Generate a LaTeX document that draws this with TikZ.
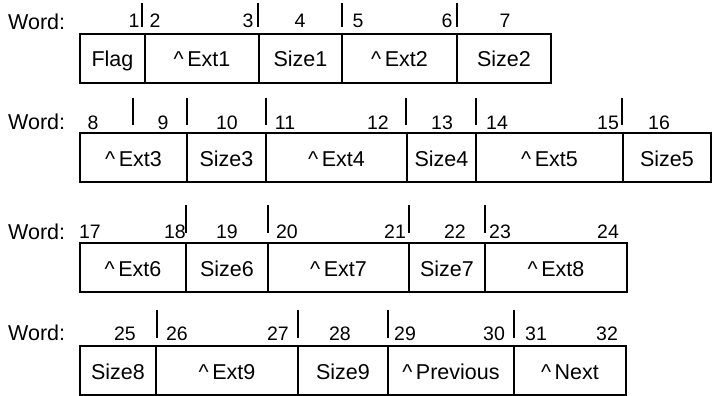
\documentclass[tikz,border=0pt]{standalone}
\usepackage{fontspec}
\setmainfont{Liberation Sans}
\usetikzlibrary{positioning}
\newcommand{\pointeur}{\textasciicircum\,}

\begin{document}
\begin{tikzpicture}[x=1pt,y=-1pt,
    champ/.style={draw, line width=1.8pt, outer sep=0pt, inner sep=0pt,
      minimum height=49pt, text height=17pt, text depth=0pt,
      font=\fontsize{21.5}{24}\selectfont},
    num/.style={anchor=base, inner sep=0pt, font=\fontsize{19.5}{22}\selectfont},
    mot/.style={anchor=base west, inner sep=0pt, font=\fontsize{21.5}{24}\selectfont},
    trait/.style={line width=1.8pt}]

    \useasboundingbox (0,0) rectangle (713,396);

    % Ligne 1
    \node[mot] (mot1) at (8,30) {Word:};
    \node[champ, anchor=north west, minimum width=65pt] (flag) at (80,34) {Flag};
    \node[champ, minimum width=114pt, right=0pt of flag] (ext1) {\pointeur Ext1};
    \node[champ, minimum width=83pt, right=0pt of ext1] (size1) {Size1};
    \node[champ, minimum width=115pt, right=0pt of size1] (ext2) {\pointeur Ext2};
    \node[champ, minimum width=94pt, right=0pt of ext2] (size2) {Size2};
    \foreach \n/\x in {1/134,2/155,3/248,4/300,5/358,6/447,7/505}
        \node[num] (n\n) at (\x,28) {\n};
    \foreach \x in {142,258,342,457}
        \draw[trait] (\x,3) -- (\x,27);

    % Ligne 2
    \node[mot] (mot2) at (8,130) {Word:};
    \node[champ, anchor=north west, minimum width=107pt] (ext3) at (80,133) {\pointeur Ext3};
    \node[champ, minimum width=79pt, right=0pt of ext3] (size3) {Size3};
    \node[champ, minimum width=141pt, right=0pt of size3] (ext4) {\pointeur Ext4};
    \node[champ, minimum width=69pt, right=0pt of ext4] (size4) {Size4};
    \node[champ, minimum width=147pt, right=0pt of size4] (ext5) {\pointeur Ext5};
    \node[champ, minimum width=88pt, right=0pt of ext5] (size5) {Size5};
    \foreach \n/\x in {8/93,9/163,10/227,11/285,12/378,13/442,14/497,15/608,16/659}
        \node[num] (n\n) at (\x,129) {\n};
    \foreach \x in {133,187,266,406,476,622}
        \draw[trait] (\x,98) -- (\x,125);

    % Ligne 3
    \node[mot] (mot3) at (8,239) {Word:};
    \node[champ, anchor=north west, minimum width=106pt] (ext6) at (80,243) {\pointeur Ext6};
    \node[champ, minimum width=82pt, right=0pt of ext6] (size6) {Size6};
    \node[champ, minimum width=141pt, right=0pt of size6] (ext7) {\pointeur Ext7};
    \node[champ, minimum width=76pt, right=0pt of ext7] (size7) {Size7};
    \node[champ, minimum width=142pt, right=0pt of size7] (ext8) {\pointeur Ext8};
    \foreach \n/\x in {17/90,18/175,19/227,20/287,21/395,22/455,23/500,24/608}
        \node[num] (n\n) at (\x,238) {\n};
    \foreach \x in {186,268,409,485}
        \draw[trait] (\x,205) -- (\x,233);

    % Ligne 4
    \node[mot] (mot4) at (8,340) {Word:};
    \node[champ, anchor=north west, minimum width=76pt] (size8) at (80,346) {Size8};
    \node[champ, minimum width=142pt, right=0pt of size8] (ext9) {\pointeur Ext9};
    \node[champ, minimum width=90pt, right=0pt of ext9] (size9) {Size9};
    \node[champ, minimum width=126pt, right=0pt of size9] (prev) {\pointeur Previous};
    \node[champ, minimum width=112pt, right=0pt of prev] (next) {\pointeur Next};
    \foreach \n/\x in {25/125,26/177,27/278,28/340,29/405,30/494,31/536,32/607}
        \node[num] (n\n) at (\x,340) {\n};
    \foreach \x in {157,298,388,514}
        \draw[trait] (\x,310) -- (\x,338);
\end{tikzpicture}
\end{document}
